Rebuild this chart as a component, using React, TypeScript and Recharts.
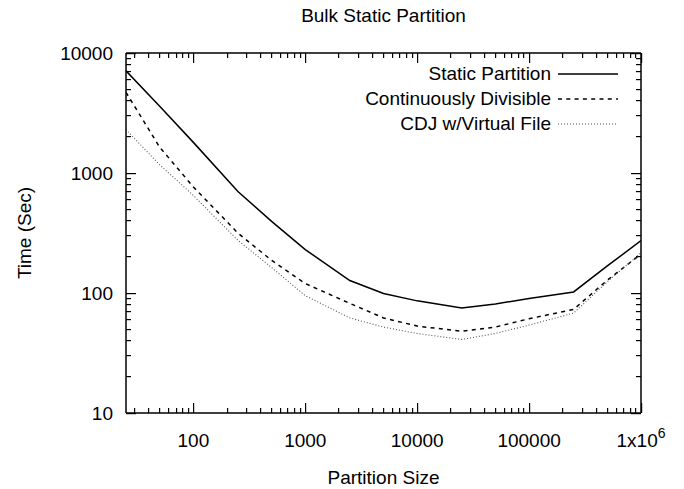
import { LineChart, Line, XAxis, YAxis, Legend, ReferenceLine, Label } from "recharts";

const partitionSizes = [25, 50, 100, 250, 500, 1000, 2500, 5000, 10000, 25000, 50000, 100000, 250000, 500000, 1000000];
const staticPartition = [7100, 3600, 1800, 700, 395, 230, 127, 99, 86, 75, 81, 90, 102, 168, 273];
const continuouslyDivisible = [4700, 1640, 765, 316, 187, 120, 82, 62, 53, 48, 52, 61, 73, 128, 211];
const cdjVirtualFile = [2300, 1170, 650, 275, 163, 95, 62, 52, 46, 41, 46, 54, 68, 124, 216];

const xMajorTicks = [100, 1000, 10000, 100000, 1000000];
const xTickLabels = ["100", "1000", "10000", "100000", "1x10^6"];
const yMajorTicks = [10, 100, 1000, 10000];
const yTickLabels = ["10", "100", "1000", "10000"];

const FONT = "'Liberation Sans', Arial, sans-serif";
const W = 684;
const H = 489;
const margin = { top: 53, right: 43, bottom: 0, left: 0 };
const X_AXIS_H = 76;
const Y_AXIS_W = 126;
const PLOT_W = W - margin.left - margin.right - Y_AXIS_W;
const MAJOR = 10;
const MINOR = 5;

// minor ticks at 2..9 of each decade, inside the domain
function minorTicks(lo: number, hi: number) {
  const out: number[] = [];
  for (let d = 1; d <= hi; d *= 10) {
    for (let k = 2; k <= 9; k++) {
      const v = k * d;
      if (v >= lo && v <= hi) out.push(v);
    }
  }
  return out;
}

const xMinor = minorTicks(25, 1000000);
const yMinor = minorTicks(10, 10000);

const data = partitionSizes.map((size, i) => ({
  size,
  sp: staticPartition[i],
  cd: continuouslyDivisible[i],
  cdj: cdjVirtualFile[i],
}));

const series = [
  { key: "sp", name: "Static Partition", stroke: "#000", width: 1.5, dash: undefined as string | undefined },
  { key: "cd", name: "Continuously Divisible", stroke: "#000", width: 1.5, dash: "4 4.3" },
  { key: "cdj", name: "CDJ w/Virtual File", stroke: "#555", width: 1.1, dash: "1 2" },
];

// gnuplot style inward ticks at both ends of a reference line
function TickMark(props: any) {
  const x1 = Number(props.x1);
  const y1 = Number(props.y1);
  const x2 = Number(props.x2);
  const y2 = Number(props.y2);
  const len = props.len;
  if (Math.abs(x1 - x2) < 0.01) {
    const x = Math.round(x1 - 0.5);
    const top = Math.min(y1, y2);
    const bot = Math.max(y1, y2);
    return (
      <g>
        <rect x={x} y={bot - len} width={1.2} height={len} fill="#000" />
        <rect x={x} y={top} width={1.2} height={len} fill="#000" />
      </g>
    );
  }
  const y = Math.round(y1 - 0.5);
  const left = Math.min(x1, x2);
  const right = Math.max(x1, x2);
  return (
    <g>
      <rect x={left} y={y} width={len} height={1.2} fill="#000" />
      <rect x={right - len} y={y} width={len} height={1.2} fill="#000" />
    </g>
  );
}

function XTick({ x, y, payload }: any) {
  const idx = xMajorTicks.indexOf(payload.value);
  if (idx < 0) return null;
  const label = xTickLabels[idx];
  return (
    <text x={x} y={y + 34} textAnchor="middle" fontFamily={FONT} fontSize={19} fill="#000">
      {label.includes("^") ? (
        <>
          <tspan>{label.split("^")[0]}</tspan>
          <tspan dy={-9} fontSize={14}>{label.split("^")[1]}</tspan>
        </>
      ) : (
        label
      )}
    </text>
  );
}

function YTick({ x, y, payload }: any) {
  const idx = yMajorTicks.indexOf(payload.value);
  if (idx < 0) return null;
  return (
    <text x={x - 13} y={y} dy="0.36em" textAnchor="end" fontFamily={FONT} fontSize={19} fill="#000">
      {yTickLabels[idx]}
    </text>
  );
}

function KeyBox() {
  return (
    <div style={{ fontFamily: FONT, fontSize: 19, color: "#000" }}>
      {series.map((s) => (
        <div key={s.key} style={{ display: "flex", justifyContent: "flex-end", alignItems: "center", height: 25 }}>
          <span style={{ whiteSpace: "nowrap" }}>{s.name}</span>
          <svg width={67} height={10} style={{ display: "block" }}>
            <line x1={7} x2={67} y1={5} y2={5} stroke={s.stroke} strokeWidth={s.width} strokeDasharray={s.dash} />
          </svg>
        </div>
      ))}
    </div>
  );
}

export default function App() {
  return (
    <div style={{ position: "absolute", left: 0, top: 0, width: W, height: H, background: "#fff" }}>
      <div
        style={{
          position: "absolute",
          left: Y_AXIS_W,
          width: PLOT_W,
          top: 6,
          textAlign: "center",
          fontFamily: FONT,
          fontSize: 19,
          lineHeight: "19px",
          color: "#000",
        }}
      >
        Bulk Static Partition
      </div>
      <LineChart width={W} height={H} data={data} margin={margin}>
        <XAxis
          dataKey="size"
          type="number"
          scale="log"
          domain={[25, 1000000]}
          allowDataOverflow
          ticks={xMajorTicks}
          interval={0}
          height={X_AXIS_H}
          tickSize={0}
          tickMargin={0}
          tickLine={false}
          tick={<XTick />}
          axisLine={{ stroke: "#000", strokeWidth: 1.5 }}
        >
          <Label value="Partition Size" position="insideBottom" offset={5} fontFamily={FONT} fontSize={19} fill="#000" />
        </XAxis>
        <YAxis
          type="number"
          scale="log"
          domain={[10, 10000]}
          allowDataOverflow
          ticks={yMajorTicks}
          interval={0}
          width={Y_AXIS_W}
          tickSize={0}
          tickMargin={0}
          tickLine={false}
          tick={<YTick />}
          axisLine={{ stroke: "#000", strokeWidth: 1.5 }}
        >
          <Label
            value="Time (Sec)"
            angle={-90}
            position="insideLeft"
            offset={24}
            fontFamily={FONT}
            fontSize={19}
            fill="#000"
            style={{ textAnchor: "middle" }}
          />
        </YAxis>
        {xMinor.map((v) => (
          <ReferenceLine key={"xm" + v} x={v} stroke="none" shape={(p: any) => <TickMark {...p} len={MINOR} />} />
        ))}
        {xMajorTicks.map((v) => (
          <ReferenceLine key={"xM" + v} x={v} stroke="none" shape={(p: any) => <TickMark {...p} len={MAJOR} />} />
        ))}
        {yMinor.map((v) => (
          <ReferenceLine key={"ym" + v} y={v} stroke="none" shape={(p: any) => <TickMark {...p} len={MINOR} />} />
        ))}
        {yMajorTicks.map((v) => (
          <ReferenceLine key={"yM" + v} y={v} stroke="none" shape={(p: any) => <TickMark {...p} len={MAJOR} />} />
        ))}
        <ReferenceLine y={10000} stroke="#000" strokeWidth={1.5} />
        <ReferenceLine x={1000000} stroke="#000" strokeWidth={1.5} />
        {series.map((s) => (
          <Line
            key={s.key}
            dataKey={s.key}
            name={s.name}
            stroke={s.stroke}
            strokeWidth={s.width}
            strokeDasharray={s.dash}
            dot={false}
            activeDot={false}
            isAnimationActive={false}
          />
        ))}
        <Legend
          layout="vertical"
          align="center"
          verticalAlign="middle"
          content={<KeyBox />}
          wrapperStyle={{ top: 61, left: 218, width: 400, right: "auto", bottom: "auto" }}
        />
      </LineChart>
    </div>
  );
}
